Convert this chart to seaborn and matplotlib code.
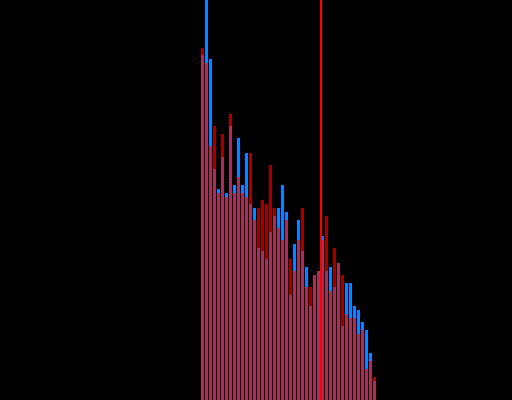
import matplotlib; matplotlib.use("Agg")
import matplotlib.pyplot as plt
import seaborn as sns
import pandas as pd

# bin index and counts (two overlaid distributions)
bins = list(range(44))
blue_counts = [345, 420, 341, 231, 211, 243, 207, 274, 215, 262, 215,
               247, 196, 192, 152, 149, 141, 168, 184, 192, 215, 188,
               105, 156, 180, 149, 133, 94, 125, 129, 164, 129, 133,
               113, 137, 74, 117, 117, 94, 90, 78, 70, 47, 19]
red_counts = [352, 337, 254, 274, 207, 266, 203, 286, 207, 223, 207,
              203, 247, 180, 192, 200, 196, 235, 192, 172, 160, 180,
              141, 129, 160, 192, 113, 113, 125, 129, 160, 184, 109,
              152, 137, 125, 86, 82, 82, 66, 70, 31, 39, 23]
threshold = 29.5

df = pd.DataFrame({"bin": bins, "blue": blue_counts, "red": red_counts})

fig = plt.figure(figsize=(5.12, 4.0), dpi=100, facecolor="black")
ax = fig.add_axes([0, 0, 1, 1])
ax.set_facecolor("black")

sns.barplot(data=df, x="bin", y="blue", color="#0A84FF", width=0.75,
            saturation=1, linewidth=0, errorbar=None, ax=ax)
sns.barplot(data=df, x="bin", y="red", color="#FF0000", alpha=0.63, width=0.75,
            saturation=1, linewidth=0, errorbar=None, ax=ax)
# threshold marker sits on top of the bars
ax.axvline(threshold, color="#FF0000", linewidth=1.1, zorder=10,
           antialiased=False)

ax.set_xlim(-50.625, 77.375)
ax.set_ylim(0, 400)
ax.axis("off")

fig.savefig("out.png", dpi=100, facecolor="black")
plt.close(fig)
